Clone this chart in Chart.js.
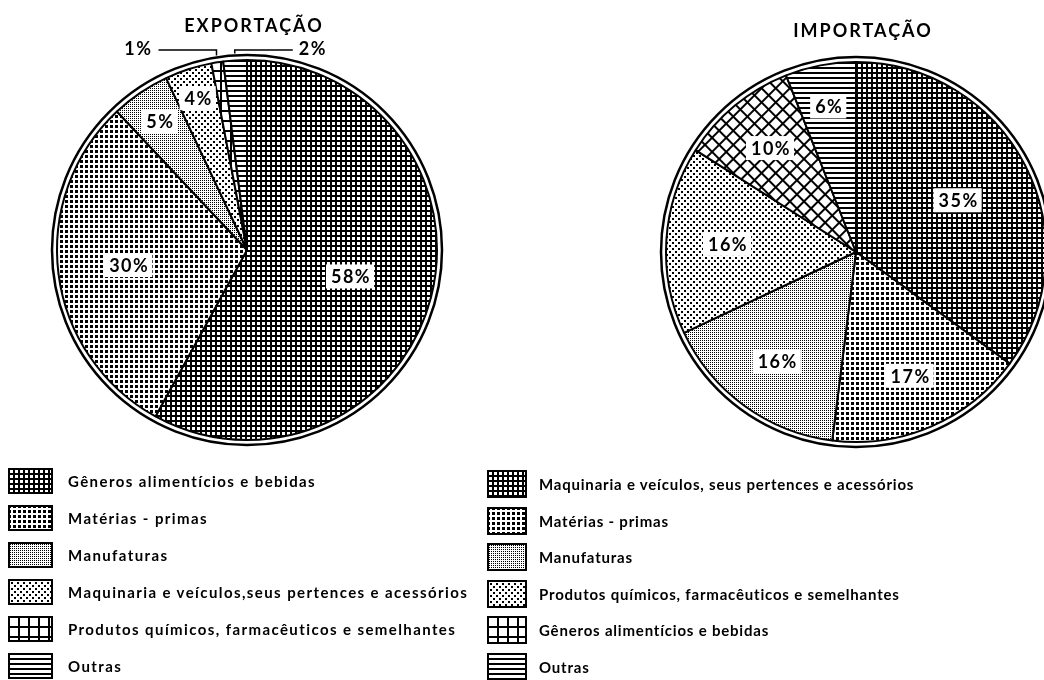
<!DOCTYPE html>
<html lang="pt">
<head>
<meta charset="UTF-8">
<title>Exportação e Importação</title>
<script src="https://cdn.jsdelivr.net/npm/chart.js"></script>
<style>
    body {
        margin: 0;
        width: 1044px;
        height: 680px;
        overflow: hidden;
        position: relative;
        background: #fff;
        font-family: 'Lato', sans-serif;
    }
    .pie { position: absolute; }
    #expBox { left: 0; top: 0; width: 494px; height: 500px; }
    #impBox { left: 606px; top: 2px; width: 500px; height: 500px; }

    .legend { position: absolute; z-index: 2; }
    #expLegend { left: 8px; top: 462px; }
    #impLegend { left: 487px; top: 466px; }
    .row { display: flex; align-items: center; height: 37px; }
    #impLegend .row { height: 36.5px; }
    .row canvas { margin-right: 15px; }
    #impLegend .row canvas { margin-right: 12px; }
    .row span {
        font-weight: bold;
        font-size: 15px;
        letter-spacing: 1.4px;
        color: #000;
        white-space: nowrap;
    }
    #impLegend .row span { letter-spacing: 0.8px; }
</style>
</head>
<body>
<div class="pie" id="expBox"><canvas id="expChart"></canvas></div>
<div class="pie" id="impBox"><canvas id="impChart"></canvas></div>
<div class="legend" id="expLegend"></div>
<div class="legend" id="impLegend"></div>

<script>
// ---- data ----
const exportLabels = [
    "Gêneros alimentícios e bebidas",
    "Matérias - primas",
    "Manufaturas",
    "Maquinaria e veículos,seus pertences e acessórios",
    "Produtos químicos, farmacêuticos e semelhantes",
    "Outras"
];
const exportValues = [58, 30, 5, 4, 1, 2];

const importLabels = [
    "Maquinaria e veículos, seus pertences e acessórios",
    "Matérias - primas",
    "Manufaturas",
    "Produtos químicos, farmacêuticos e semelhantes",
    "Gêneros alimentícios e bebidas",
    "Outras"
];
const importValues = [35, 17, 16, 16, 10, 6];

// ---- hatch patterns (black & white print look) ----
function tile(size, draw) {
    const c = document.createElement("canvas");
    c.width = c.height = size;
    const g = c.getContext("2d");
    g.fillStyle = "#fff";
    g.fillRect(0, 0, size, size);
    g.fillStyle = "#000";
    draw(g);
    return c;
}
const tiles = [
    tile(5, g => { g.fillRect(0, 0, 5, 2); g.fillRect(0, 0, 2, 5); }),   // dense grid
    tile(5, g => { g.fillRect(0, 0, 3, 3); }),                           // dot check
    tile(2, g => { g.fillRect(0, 0, 1, 1); }),                           // fine stipple
    tile(6, g => { g.fillRect(0, 0, 2, 2); g.fillRect(3, 3, 2, 2); }),   // sparse dots
    tile(10, g => { g.fillRect(0, 0, 10, 2); g.fillRect(0, 0, 2, 10); }), // open grid
    tile(5, g => { g.fillRect(0, 0, 5, 2); })                            // horizontal lines
];
const pctx = document.createElement("canvas").getContext("2d");
const patterns = tiles.map(t => pctx.createPattern(t, "repeat"));

// import pie draws the open grid turned 45deg
const diagGrid = pctx.createPattern(tiles[4], "repeat");
diagGrid.setTransform(new DOMMatrix().rotate(45));
const importFills = patterns.slice();
importFills[4] = diagGrid;

// label placement: fraction of radius, or callout side
const exportPlace = [{ r: 0.56 }, { r: 0.63 }, { r: 0.82 }, { r: 0.84 }, { out: -1 }, { out: 1 }];
const importPlace = [{ r: 0.6 }, { r: 0.71 }, { r: 0.71 }, { r: 0.68 }, { r: 0.71 }, { r: 0.78 }];

const pieDecor = {
    id: "pieDecor",
    afterDatasetsDraw(chart, args, opts) {
        const ctx = chart.ctx;
        const meta = chart.getDatasetMeta(0);
        const cx = meta.data[0].x, cy = meta.data[0].y, r = meta.data[0].outerRadius;
        ctx.save();

        // outer ring
        ctx.beginPath();
        ctx.arc(cx, cy, r + 5, 0, Math.PI * 2);
        ctx.lineWidth = 2.5;
        ctx.strokeStyle = "#000";
        ctx.stroke();

        // title
        ctx.fillStyle = "#000";
        ctx.font = "bold 18px Lato";
        ctx.letterSpacing = "2px";
        ctx.textAlign = "center";
        ctx.textBaseline = "alphabetic";
        ctx.fillText(opts.title, cx + 7, opts.titleY);

        // percentage labels
        ctx.font = "bold 18px Lato";
        ctx.letterSpacing = "1.5px";
        ctx.textBaseline = "middle";
        const values = chart.data.datasets[0].data;
        meta.data.forEach((arc, i) => {
            const p = opts.place[i];
            const mid = (arc.startAngle + arc.endAngle) / 2;
            const text = values[i] + "%";
            if (p.out) {
                const hx = cx + Math.cos(mid) * (r + 5);
                const hy = cy + Math.sin(mid) * (r + 7);
                const ly = cy - r - 10;
                const ex = hx + p.out * 58;
                ctx.beginPath();
                ctx.moveTo(hx, hy);
                ctx.lineTo(hx, ly);
                ctx.lineTo(ex, ly);
                ctx.lineWidth = 1.5;
                ctx.stroke();
                ctx.textAlign = p.out < 0 ? "right" : "left";
                ctx.fillText(text, ex + p.out * 6, ly - 1);
                return;
            }
            const x = cx + Math.cos(mid) * r * p.r;
            const y = cy + Math.sin(mid) * r * p.r;
            const w = ctx.measureText(text).width + 8;
            ctx.fillStyle = "#fff";
            ctx.fillRect(x - w / 2, y - 12, w, 24);
            ctx.fillStyle = "#000";
            ctx.textAlign = "center";
            ctx.fillText(text, x + 1, y + 1);
        });
        ctx.restore();
    }
};

function pieChart(id, labels, values, fills, title, titleY, place) {
    return new Chart(document.getElementById(id), {
        type: "pie",
        data: {
            labels: labels,
            datasets: [{
                data: values,
                backgroundColor: fills,
                borderColor: "#000",
                borderWidth: 2,
                radius: 190
            }]
        },
        options: {
            responsive: true,
            maintainAspectRatio: false,
            animation: false,
            layout: { padding: 0 },
            plugins: {
                legend: { display: false },
                tooltip: { enabled: false },
                pieDecor: { title: title, titleY: titleY, place: place }
            }
        },
        plugins: [pieDecor]
    });
}

pieChart("expChart", exportLabels, exportValues, patterns, "EXPORTAÇÃO", 32, exportPlace);
pieChart("impChart", importLabels, importValues, importFills, "IMPORTAÇÃO", 35, importPlace);

// ---- legends ----
function buildLegend(elId, labels, w, h) {
    const box = document.getElementById(elId);
    labels.forEach((txt, i) => {
        const row = document.createElement("div");
        row.className = "row";
        const sw = document.createElement("canvas");
        sw.width = w;
        sw.height = h;
        const g = sw.getContext("2d");
        g.fillStyle = patterns[i];
        g.fillRect(0, 0, w, h);
        g.lineWidth = 2;
        g.strokeStyle = "#000";
        g.strokeRect(1, 1, w - 2, h - 2);
        const span = document.createElement("span");
        span.textContent = txt;
        row.appendChild(sw);
        row.appendChild(span);
        box.appendChild(row);
    });
}
buildLegend("expLegend", exportLabels, 45, 26);
buildLegend("impLegend", importLabels, 40, 28);
</script>
</body>
</html>
